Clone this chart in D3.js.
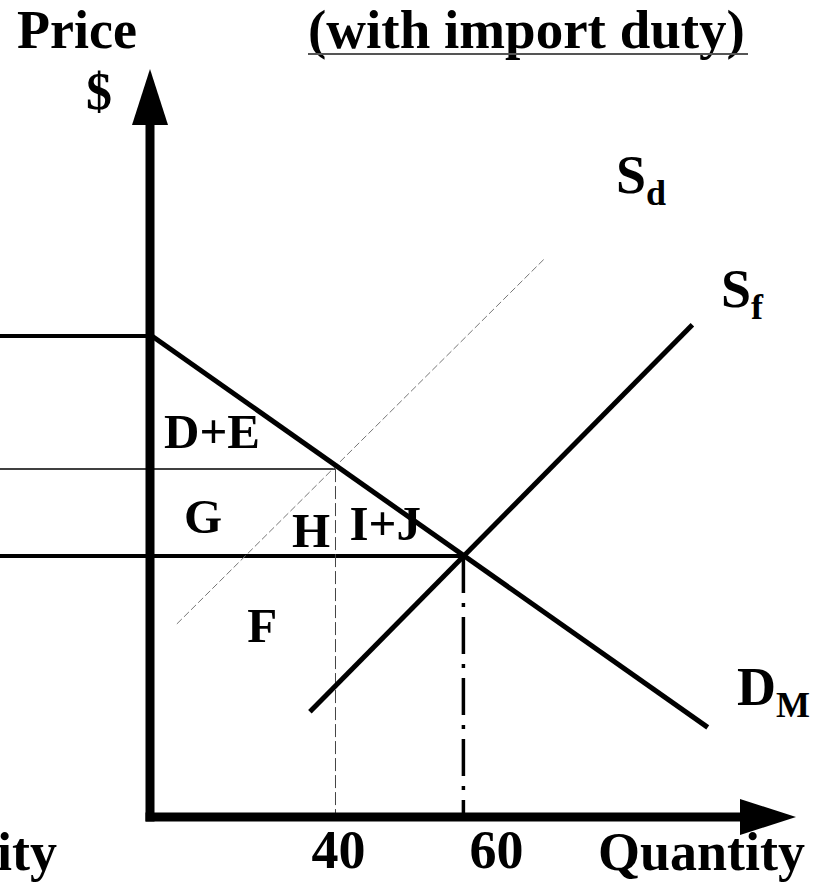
<!DOCTYPE html>
<html>
<head>
<meta charset="utf-8">
<script src="https://cdn.jsdelivr.net/npm/d3@7"></script>
<style>
  body { margin: 0; background: #fff; }
  text { font-family: "Liberation Serif", "Times New Roman", serif; font-weight: bold; fill: #000; }
</style>
</head>
<body>
<div id="chart"></div>
<script>
// Data (quantity, price in $)
var qTicks = [40, 60];
var tickLabels = ["40", "60"];

var demand = [[11.3, 55.3], [98.2, 10.3]];         // D_M
var foreignSupply = [[36, 12.1], [95.8, 56.6]];    // S_f
var domesticSupply = [[15.2, 22.2], [72.7, 64.2]]; // S_d (faint dashed)

var priceLevels = [55.3, 40, 30];   // choke price, price with duty, world price
var levelEnds = [11.3, 40, 60];     // where each price line stops
var qLeft = -12.5;                  // lines continue from the left panel

var areaLabels = ["D+E", "G", "H", "I+J", "F"];
var areaQ = [13.2, 16.3, 33.2, 42.2, 26.2];
var areaP = [42.4, 32.6, 31.0, 31.8, 20.1];

// Create parameters
var svgWidth = 825;
var svgHeight = 889;

var svg = d3.select("#chart")
  .append("svg")
  .attr("width", svgWidth)
  .attr("height", svgHeight);

// Scales
var xScale = d3.scaleLinear().domain([11, 112]).range([150, 796]);
var yScale = d3.scaleLinear().domain([0, 86]).range([817, 69]);

var line = d3.line()
  .x(d => xScale(d[0]))
  .y(d => yScale(d[1]));

// Price lines running in from the left
var lineWidths = [4, 1.5, 4];
svg.append("g")
  .selectAll("line")
  .data(priceLevels)
  .enter()
  .append("line")
  .attr("x1", xScale(qLeft))
  .attr("x2", (d, i) => xScale(levelEnds[i]))
  .attr("y1", d => yScale(d))
  .attr("y2", d => yScale(d))
  .attr("stroke", "#000")
  .attr("stroke-width", (d, i) => lineWidths[i]);

// S_d faint dashed
svg.append("path")
  .attr("d", line(domesticSupply))
  .attr("fill", "none")
  .attr("stroke", "#777")
  .attr("stroke-width", 1)
  .attr("stroke-dasharray", "7,3");

// Quantity drop lines
svg.append("line")
  .attr("x1", xScale(qTicks[0])).attr("x2", xScale(qTicks[0]))
  .attr("y1", yScale(priceLevels[1])).attr("y2", yScale(0))
  .attr("stroke", "#444")
  .attr("stroke-width", 1)
  .attr("stroke-dasharray", "13,4");

svg.append("line")
  .attr("x1", xScale(qTicks[1])).attr("x2", xScale(qTicks[1]))
  .attr("y1", yScale(priceLevels[2])).attr("y2", yScale(0))
  .attr("stroke", "#000")
  .attr("stroke-width", 3.5)
  .attr("stroke-dasharray", "37,10,4,10");

// Demand and foreign supply
svg.append("path")
  .attr("d", line(demand))
  .attr("fill", "none")
  .attr("stroke", "#000")
  .attr("stroke-width", 5);

svg.append("path")
  .attr("d", line(foreignSupply))
  .attr("fill", "none")
  .attr("stroke", "#000")
  .attr("stroke-width", 5);

// Axes with arrowheads
var x0 = xScale(11), y0 = yScale(0);
var xTip = xScale(112), yTip = yScale(86);
var headLen = 56, headHalf = 18;

svg.append("line")
  .attr("x1", x0).attr("x2", x0)
  .attr("y1", y0 + 4.5).attr("y2", yTip + headLen - 2)
  .attr("stroke", "#000").attr("stroke-width", 9);
svg.append("path")
  .attr("d", `M${x0},${yTip} L${x0 + headHalf},${yTip + headLen} L${x0 - headHalf},${yTip + headLen} Z`)
  .attr("fill", "#000");

svg.append("line")
  .attr("x1", x0 - 4.5).attr("x2", xTip - headLen + 2)
  .attr("y1", y0).attr("y2", y0)
  .attr("stroke", "#000").attr("stroke-width", 9);
svg.append("path")
  .attr("d", `M${xTip},${y0} L${xTip - headLen},${y0 - headHalf} L${xTip - headLen},${y0 + headHalf} Z`)
  .attr("fill", "#000");

// Tick labels (no tick marks)
var tickNudge = [3, 33];
svg.append("g")
  .selectAll("text")
  .data(qTicks)
  .enter()
  .append("text")
  .attr("x", (d, i) => xScale(d) + tickNudge[i])
  .attr("y", 868)
  .attr("text-anchor", "middle")
  .attr("font-size", 54)
  .text((d, i) => tickLabels[i]);

// Area labels
svg.append("g")
  .selectAll("text")
  .data(areaLabels)
  .enter()
  .append("text")
  .attr("x", (d, i) => xScale(areaQ[i]))
  .attr("y", (d, i) => yScale(areaP[i]))
  .attr("font-size", 49)
  .text(d => d);

// Titles and axis labels
svg.append("text").attr("x", 17).attr("y", 48).attr("font-size", 54).text("Price");
svg.append("text").attr("x", 308).attr("y", 48).attr("font-size", 55).text("(with import duty)");
svg.append("line")
  .attr("x1", 308).attr("x2", 748).attr("y1", 54).attr("y2", 54)
  .attr("stroke", "#555").attr("stroke-width", 2);
svg.append("text").attr("x", 99).attr("y", 109).attr("text-anchor", "middle").attr("font-size", 52).text("$");
svg.append("text").attr("x", 598).attr("y", 870).attr("font-size", 54).text("Quantity");
svg.append("text").attr("x", 57).attr("y", 870).attr("text-anchor", "end").attr("font-size", 54).text("Quantity");

// Curve labels with subscripts
function curveLabel(x, y, main, sub) {
  var t = svg.append("text").attr("x", x).attr("y", y).attr("font-size", 54);
  t.append("tspan").text(main);
  t.append("tspan").attr("font-size", 36).attr("dy", 12).text(sub);
}
curveLabel(616, 193, "S", "d");
curveLabel(721, 307, "S", "f");
curveLabel(737, 705, "D", "M");
</script>
</body>
</html>
